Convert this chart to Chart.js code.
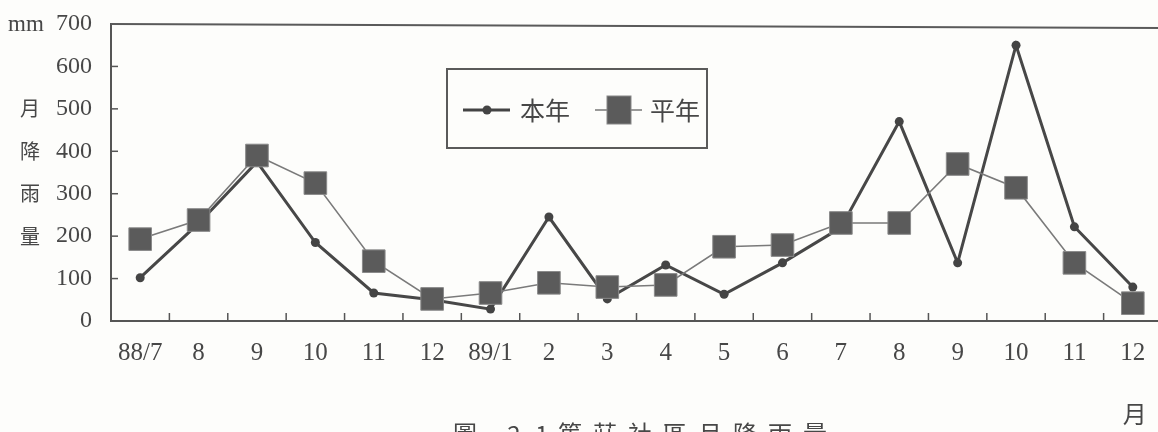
<!DOCTYPE html>
<html>
<head>
<meta charset="utf-8">
<script src="https://cdn.jsdelivr.net/npm/chart.js@4.4.1/dist/chart.umd.min.js"></script>
<style>
  html, body { margin: 0; padding: 0; background: #fdfdfb; overflow: hidden; }
  #wrap { width: 1158px; height: 432px; position: relative; overflow: hidden; }
</style>
</head>
<body>
<div id="wrap"><canvas id="c" width="1162" height="432"></canvas></div>
<script>
// ---- data ----
const months = ['88/7', '8', '9', '10', '11', '12', '89/1', '2', '3', '4', '5', '6', '7', '8', '9', '10', '11', '12'];
const thisYear = [102, 230, 375, 185, 66, 50, 28, 245, 52, 132, 63, 137, 220, 470, 137, 650, 222, 80];
const normalYear = [193, 238, 390, 325, 141, 52, 66, 90, 80, 85, 175, 179, 231, 231, 370, 314, 137, 42];
const yTicks = [0, 100, 200, 300, 400, 500, 600, 700];
const seriesNames = ['本年', '平年'];
const yUnit = 'mm';
const yTitleChars = ['月', '降', '雨', '量'];
const xUnit = '月';
const caption = '圖 2-1 篤莊社區月降雨量';

const INK = '#474747';
const SERIF = '"Liberation Serif", "DejaVu Serif", serif';
const CJK = '"Noto Sans CJK TC", "Noto Sans CJK SC", sans-serif';

const decorPlugin = {
  id: 'decor',
  afterDraw(chart) {
    const ctx = chart.ctx;
    const a = chart.chartArea;
    const xs = chart.scales.x, ys = chart.scales.y;
    ctx.save();
    // top frame line
    ctx.strokeStyle = '#5a5a5a';
    ctx.lineWidth = 2;
    ctx.beginPath();
    ctx.moveTo(a.left, a.top);
    ctx.lineTo(chart.width, a.top + 4);
    ctx.stroke();
    // inward x ticks at category boundaries
    ctx.lineWidth = 1.5;
    ctx.strokeStyle = '#555';
    for (let i = 1; i < months.length; i++) {
      const px = (xs.getPixelForValue(i - 1) + xs.getPixelForValue(i)) / 2;
      ctx.beginPath();
      ctx.moveTo(px, a.bottom);
      ctx.lineTo(px, a.bottom - 8);
      ctx.stroke();
    }
    // inward y ticks
    yTicks.forEach(v => {
      if (v === 0 || v === 700) return;
      const py = ys.getPixelForValue(v);
      ctx.beginPath();
      ctx.moveTo(a.left, py);
      ctx.lineTo(a.left + 7, py);
      ctx.stroke();
    });
    // unit "mm"
    ctx.fillStyle = INK;
    ctx.font = '23px ' + SERIF;
    ctx.textAlign = 'left';
    ctx.textBaseline = 'middle';
    ctx.fillText(yUnit, 8, ys.getPixelForValue(700) + 1);
    // vertical y title
    ctx.font = '20px ' + CJK;
    ctx.textAlign = 'center';
    const titleVals = [500, 400, 300, 200];
    yTitleChars.forEach((ch, i) => {
      ctx.fillText(ch, 30, ys.getPixelForValue(titleVals[i]));
    });
    // x unit under last label
    ctx.font = '24px ' + CJK;
    ctx.fillText(xUnit, xs.getPixelForValue(months.length - 1) + 2, 414);
    // caption (cut off at the bottom like the scan)
    ctx.font = '24px ' + CJK;
    ctx.textBaseline = 'top';
    ctx.textAlign = 'center';
    const chars = Array.from(caption);
    let cx = 465;
    chars.forEach(ch => {
      if (ch === ' ') { cx += 14; return; }
      ctx.fillText(ch, cx, 422);
      cx += (/[0-9\-]/.test(ch)) ? 14 : 35;
    });
    // legend box
    ctx.strokeStyle = '#5a5a5a';
    ctx.lineWidth = 2;
    ctx.strokeRect(447, 69, 260, 79);
    const ly = 110;
    // 本年 sample
    ctx.strokeStyle = '#444';
    ctx.lineWidth = 3;
    ctx.beginPath(); ctx.moveTo(463, ly); ctx.lineTo(510, ly); ctx.stroke();
    ctx.fillStyle = '#444';
    ctx.beginPath(); ctx.arc(487, ly, 4.5, 0, Math.PI * 2); ctx.fill();
    ctx.fillStyle = INK;
    ctx.font = '25px ' + CJK;
    ctx.textAlign = 'left';
    ctx.textBaseline = 'middle';
    ctx.fillText(seriesNames[0], 520, ly);
    // 平年 sample
    ctx.strokeStyle = '#777';
    ctx.lineWidth = 1.5;
    ctx.beginPath(); ctx.moveTo(595, ly); ctx.lineTo(642, ly); ctx.stroke();
    ctx.fillStyle = '#5b5b5b';
    ctx.fillRect(607, ly - 14, 24, 28);
    ctx.strokeStyle = '#888';
    ctx.lineWidth = 1;
    ctx.strokeRect(607, ly - 14, 24, 28);
    ctx.fillStyle = INK;
    ctx.fillText(seriesNames[1], 650, ly);
    ctx.restore();
  }
};

new Chart(document.getElementById('c'), {
  type: 'line',
  data: {
    labels: months,
    datasets: [
      {
        label: seriesNames[1],
        data: normalYear,
        borderColor: '#7a7a7a',
        borderWidth: 1.6,
        pointStyle: 'rect',
        pointRadius: 16,
        pointBackgroundColor: '#5b5b5b',
        pointBorderColor: '#8a8a8a',
        pointBorderWidth: 1,
        tension: 0,
        fill: false,
        clip: false
      },
      {
        label: seriesNames[0],
        data: thisYear,
        borderColor: '#474747',
        borderWidth: 3,
        pointStyle: 'circle',
        pointRadius: 4.5,
        pointBackgroundColor: '#444',
        pointBorderColor: '#444',
        pointBorderWidth: 0,
        tension: 0,
        fill: false,
        clip: false
      }
    ]
  },
  options: {
    responsive: false,
    animation: false,
    events: [],
    layout: { autoPadding: false, padding: { top: 24, right: 0, left: 0, bottom: 0 } },
    plugins: {
      legend: { display: false },
      tooltip: { enabled: false },
      title: { display: false }
    },
    scales: {
      x: {
        type: 'category',
        offset: true,
        grid: { display: false, drawTicks: false },
        border: { display: true, color: '#555', width: 2 },
        ticks: {
          color: INK,
          font: { family: SERIF, size: 25 },
          padding: 17,
          maxRotation: 0,
          autoSkip: false
        },
        afterFit(s) { s.height = 432 - 321; s.paddingLeft = 0; s.paddingRight = 0; }
      },
      y: {
        min: 0,
        max: 700,
        grid: { display: false, drawTicks: false },
        border: { display: true, color: '#555', width: 2 },
        afterBuildTicks(s) { s.ticks = yTicks.map(v => ({ value: v })); },
        ticks: {
          color: INK,
          font: { family: SERIF, size: 24 },
          padding: 19
        },
        afterFit(s) { s.width = 111; s.paddingTop = 0; }
      }
    }
  },
  plugins: [decorPlugin]
});
</script>
</body>
</html>
